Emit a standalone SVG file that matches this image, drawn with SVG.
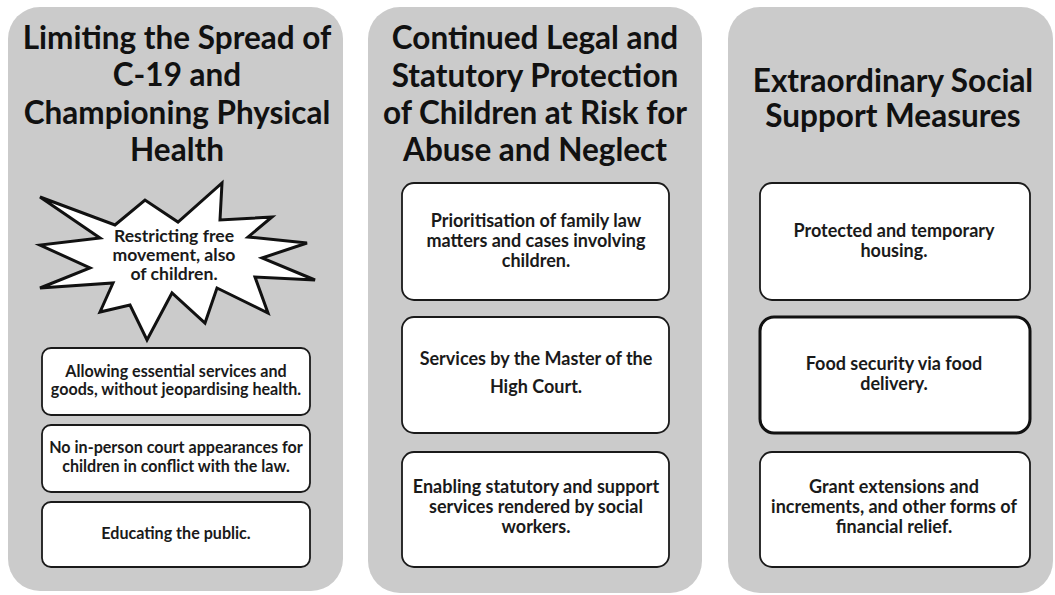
<svg xmlns="http://www.w3.org/2000/svg" width="1055" height="595" viewBox="0 0 1055 595">
  <style>
    .panel { fill: #cbcbcb; stroke: none; }
    .box { fill: #ffffff; stroke: #1a1a1a; stroke-width: 1.8; }
    .box-strong { fill: #ffffff; stroke: #111111; stroke-width: 3; }
    .star { fill: #ffffff; stroke: #111111; stroke-width: 3; stroke-linejoin: miter; }
    .title { font-family: Lato, "Open Sans", "Liberation Sans", sans-serif; font-weight: 700; font-size: 31.5px; fill: #111111; text-anchor: middle; }
    .label { font-family: Lato, "Open Sans", "Liberation Sans", sans-serif; font-weight: 700; font-size: 18px; fill: #1a1a1a; text-anchor: middle; }
    .label-sm { font-family: Lato, "Open Sans", "Liberation Sans", sans-serif; font-weight: 700; font-size: 16.1px; fill: #1a1a1a; text-anchor: middle; }
    .label-star { font-family: Lato, "Open Sans", "Liberation Sans", sans-serif; font-weight: 700; font-size: 17.6px; fill: #1a1a1a; text-anchor: middle; }
  </style>

  <rect width="1055" height="595" fill="#ffffff"/>

  <!-- Column 1: physical health -->
  <g id="col-health">
    <rect class="panel" x="8" y="7" width="335" height="584" rx="32"/>
    <text class="title" x="177" y="49">Limiting the Spread of</text>
    <text class="title" x="177" y="86">C-19 and</text>
    <text class="title" x="177" y="124">Championing Physical</text>
    <text class="title" x="177" y="161">Health</text>
  </g>

  <g id="node-restricting">
    <polygon class="star" points="222,183 220,220 272,217 248,237 307,243 262,258 315,280 255,277 268,313 217,288 205,323 172,293 147,340 130,305 100,312 113,283 40,288 90,268 40,245 100,238 40,197 115,225 145,200 178,222"/>
    <text class="label-star" x="174" y="242">Restricting free</text>
    <text class="label-star" x="174" y="261">movement, also</text>
    <text class="label-star" x="174" y="280">of children.</text>
  </g>

  <g id="node-essential">
    <rect class="box" x="42" y="348" width="268" height="67" rx="9"/>
    <text class="label-sm" x="176" y="377">Allowing essential services and</text>
    <text class="label-sm" x="176" y="395">goods, without jeopardising health.</text>
  </g>

  <g id="node-court">
    <rect class="box" x="42" y="425" width="268" height="67" rx="9"/>
    <text class="label-sm" x="176" y="453">No in-person court appearances for</text>
    <text class="label-sm" x="176" y="472">children in conflict with the law.</text>
  </g>

  <g id="node-educating">
    <rect class="box" x="42" y="502" width="268" height="65" rx="9"/>
    <text class="label-sm" x="176" y="539">Educating the public.</text>
  </g>

  <!-- Column 2: legal protection -->
  <g id="col-legal">
    <rect class="panel" x="368" y="7" width="334" height="586" rx="32"/>
    <text class="title" x="535" y="49">Continued Legal and</text>
    <text class="title" x="535" y="87">Statutory Protection</text>
    <text class="title" x="535" y="124">of Children at Risk for</text>
    <text class="title" x="535" y="161">Abuse and Neglect</text>
  </g>

  <g id="node-family-law">
    <rect class="box" x="402" y="183" width="267" height="117" rx="12"/>
    <text class="label" x="536" y="227">Prioritisation of family law</text>
    <text class="label" x="536" y="247">matters and cases involving</text>
    <text class="label" x="536" y="267">children.</text>
  </g>

  <g id="node-master">
    <rect class="box" x="402" y="317" width="267" height="116" rx="12"/>
    <text class="label" x="536" y="365">Services by the Master of the</text>
    <text class="label" x="536" y="393">High Court.</text>
  </g>

  <g id="node-social-workers">
    <rect class="box" x="402" y="452" width="267" height="115" rx="12"/>
    <text class="label" x="536" y="493">Enabling statutory and support</text>
    <text class="label" x="536" y="513">services rendered by social</text>
    <text class="label" x="536" y="533">workers.</text>
  </g>

  <!-- Column 3: social support -->
  <g id="col-social">
    <rect class="panel" x="728" y="7" width="325" height="586" rx="32"/>
    <text class="title" x="893" y="92">Extraordinary Social</text>
    <text class="title" x="893" y="127">Support Measures</text>
  </g>

  <g id="node-housing">
    <rect class="box" x="760" y="183" width="270" height="117" rx="12"/>
    <text class="label" x="894" y="237">Protected and temporary</text>
    <text class="label" x="894" y="257">housing.</text>
  </g>

  <g id="node-food">
    <rect class="box-strong" x="760" y="317" width="270" height="116" rx="14"/>
    <text class="label" x="894" y="370">Food security via food</text>
    <text class="label" x="894" y="390">delivery.</text>
  </g>

  <g id="node-grants">
    <rect class="box" x="760" y="452" width="270" height="115" rx="12"/>
    <text class="label" x="894" y="493">Grant extensions and</text>
    <text class="label" x="894" y="513">increments, and other forms of</text>
    <text class="label" x="894" y="533">financial relief.</text>
  </g>

  <!-- no connectors in this layout -->
  <g id="connectors"/>
</svg>
